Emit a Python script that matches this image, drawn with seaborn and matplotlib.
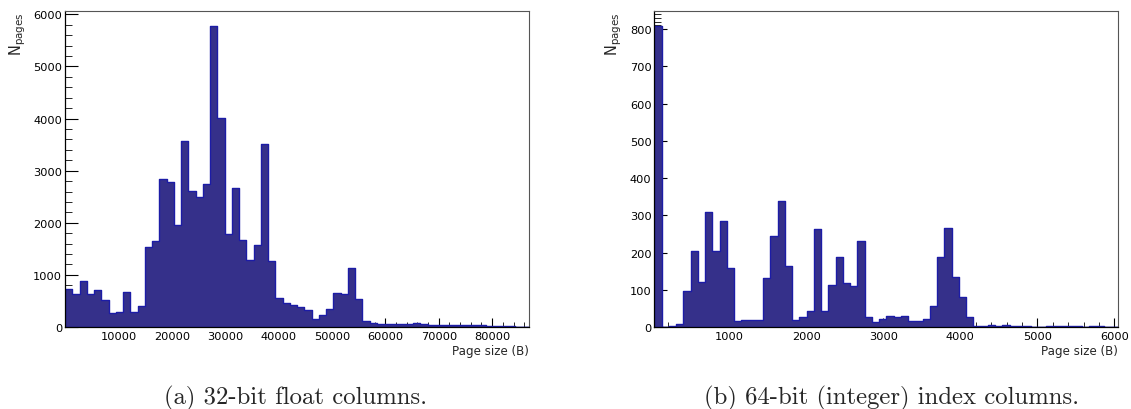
import numpy as np
import pandas as pd
import matplotlib
matplotlib.use("Agg")
import matplotlib.pyplot as plt
import seaborn as sns
from matplotlib.ticker import MultipleLocator, FixedLocator

# ---- data ----
float_lo, float_hi = 0, 86900
float_counts = [720, 638, 887, 638, 702, 510, 274, 287, 664, 287,
                402, 1532, 1659, 2840, 2776, 1959, 3574, 2616, 2495, 2738,
                5775, 4001, 1780, 2661, 1678, 1295, 1583, 3510, 1276, 555,
                466, 428, 383, 332, 147, 223, 338, 657, 625, 1136,
                530, 115, 70, 64, 57, 57, 51, 57, 83, 57,
                45, 38, 32, 32, 32, 38, 32, 32, 26, 26,
                19, 13, 6, 6]

index_lo, index_hi = 27, 6050
index_counts = [808, 1, 2, 9, 96, 205, 122, 308, 203, 285,
                159, 15, 20, 20, 18, 132, 245, 338, 165, 18,
                26, 43, 264, 43, 112, 188, 118, 110, 231, 26,
                13, 22, 30, 27, 29, 17, 17, 22, 56, 187,
                265, 134, 80, 27, 4, 4, 5, 4, 5, 4,
                4, 2, 1, 1, 3, 3, 4, 3, 2, 1,
                3, 2, 1, 1]

float_xticks = [10000, 20000, 30000, 40000, 50000, 60000, 70000, 80000]
index_xticks = [1000, 2000, 3000, 4000, 5000, 6000]
float_yticks = [0, 1000, 2000, 3000, 4000, 5000, 6000]
index_yticks = [0, 100, 200, 300, 400, 500, 600, 700, 800]

x_title = "Page size (B)"
y_title = r"N$_{\mathrm{pages}}$"
captions = ["(a) 32-bit float columns.", "(b) 64-bit (integer) index columns."]

sns.set_style("ticks")
plt.rcParams["font.family"] = ["DejaVu Sans"]

FILL = "#35308a"
EDGE = "#1c1ca6"

fig = plt.figure(figsize=(11.31, 4.10), dpi=100)
W, H = 1131.0, 410.0
ax1 = fig.add_axes([65 / W, (H - 328) / H, 464 / W, 316 / H])
ax2 = fig.add_axes([654.3 / W, (H - 328) / H, 464 / W, 316 / H])


def draw(ax, lo, hi, counts, xticks, xminor, yticks, yminor, ymax):
    edges = np.linspace(lo, hi, len(counts) + 1)
    centers = 0.5 * (edges[:-1] + edges[1:])
    df = pd.DataFrame({"size": centers, "n": counts})
    sns.histplot(data=df, x="size", weights="n", bins=list(edges), element="step",
                 fill=True, facecolor=FILL, edgecolor=EDGE, alpha=1.0,
                 linewidth=1.0, ax=ax)
    ax.set_xlim(lo, hi)
    ax.set_ylim(0, ymax)
    ax.xaxis.set_major_locator(FixedLocator(xticks))
    ax.xaxis.set_minor_locator(MultipleLocator(xminor))
    ax.yaxis.set_major_locator(FixedLocator(yticks))
    ax.yaxis.set_minor_locator(MultipleLocator(yminor))
    ax.tick_params(axis="x", which="major", direction="in", length=6.5,
                   width=0.8, labelsize=8.2, pad=3, colors="black")
    ax.tick_params(axis="x", which="minor", direction="in", length=3.5, width=0.7)
    ax.tick_params(axis="y", which="major", direction="in", length=9.0,
                   width=0.8, labelsize=8.2, pad=2, colors="black")
    ax.tick_params(axis="y", which="minor", direction="in", length=5.0, width=0.7)
    ax.tick_params(top=False, right=False, which="both")
    for s in ["left", "bottom"]:
        ax.spines[s].set_color("black")
        ax.spines[s].set_linewidth(0.9)
    for s in ["top", "right"]:
        ax.spines[s].set_color("#555555")
        ax.spines[s].set_linewidth(0.8)
    ax.set_xlabel(x_title, loc="right", fontsize=8.6, labelpad=2)
    ax.set_ylabel(y_title, loc="top", fontsize=10.5, labelpad=4)
    ax.grid(False)


draw(ax1, float_lo, float_hi, float_counts, float_xticks, 2000,
     float_yticks, 200, max(float_counts) * 1.05)
draw(ax2, index_lo, index_hi, index_counts, index_xticks, 200,
     index_yticks, 10, max(index_counts) * 1.05)

fig.text(296 / W, 1 - 404 / H, captions[0], ha="center", va="baseline",
         fontsize=17.8, family=["cmr10", "DejaVu Serif"])
fig.text(892 / W, 1 - 404 / H, captions[1], ha="center", va="baseline",
         fontsize=17.8, family=["cmr10", "DejaVu Serif"])

fig.savefig("out.png", dpi=100)
